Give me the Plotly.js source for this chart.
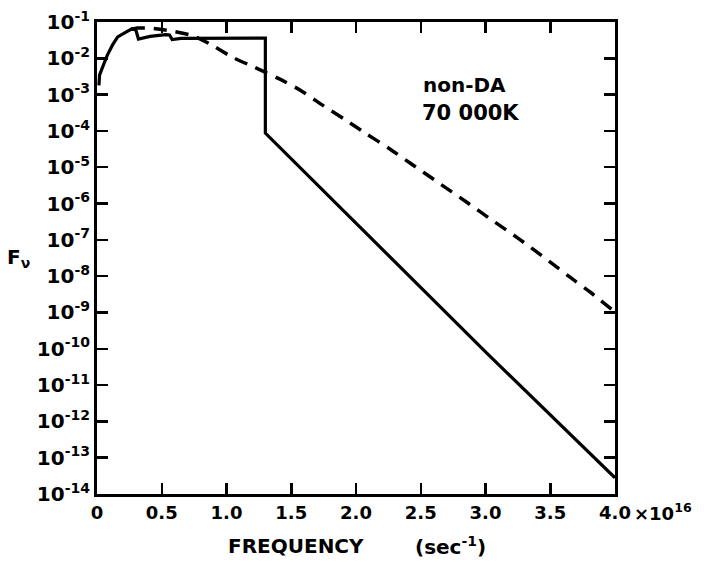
<!DOCTYPE html>
<html>
<head>
<meta charset="utf-8">
<script src="https://cdn.plot.ly/plotly-3.0.1.min.js"></script>
<style>html,body{margin:0;padding:0;background:#fff;}#chart{width:708px;height:562px;}</style>
</head>
<body>
<div id="chart"></div>
<script>
// frequency in units of 1e16 sec^-1
const modelFreq = [0.015, 0.02, 0.05, 0.08, 0.12, 0.16, 0.22, 0.27, 0.30, 0.32, 0.41, 0.53, 0.56, 0.58, 0.65, 1.30, 1.30, 2.76, 3.01, 4.0];
const modelFlux = [1.8e-3, 3.5e-3, 6.6e-3, 1.23e-2, 2.34e-2, 3.9e-2, 5.2e-2, 6.5e-2, 6.0e-2, 3.4e-2, 4.0e-2, 4.5e-2, 4.4e-2, 3.3e-2, 3.55e-2, 3.6e-2, 8.7e-5, 6.2e-10, 7.6e-11, 2.8e-14];

const bbFreq = [0.27, 0.31, 0.40, 0.58, 0.73, 0.87, 1.05, 1.22, 1.40, 1.57, 1.75, 1.91, 2.08, 2.25, 2.42, 2.63, 2.85, 3.05, 3.25, 3.49, 3.65, 3.81, 3.98];
const bbFlux = [6.3e-2, 6.8e-2, 6.8e-2, 5.6e-2, 4.3e-2, 2.5e-2, 1.05e-2, 5.6e-3, 2.8e-3, 1.32e-3, 4.9e-4, 2.1e-4, 8.3e-5, 3.4e-5, 1.29e-5, 3.9e-6, 1.12e-6, 3.5e-7, 1.12e-7, 2.6e-8, 9.5e-9, 3.6e-9, 1.17e-9];

const xTickVals = [0, 0.5, 1.0, 1.5, 2.0, 2.5, 3.0, 3.5, 4.0];
const xTickText = ['0', '0.5', '1.0', '1.5', '2.0', '2.5', '3.0', '3.5', '4.0'];
const yExponents = [-1, -2, -3, -4, -5, -6, -7, -8, -9, -10, -11, -12, -13, -14];
const yTickVals = yExponents.map(e => Math.pow(10, e));
const yTickText = yExponents.map(e => '10<sup>' + e + '</sup>');

const FONT = 'DejaVu Sans, Liberation Sans, sans-serif';

const traces = [
  {x: modelFreq, y: modelFlux, mode: 'lines', line: {color: '#000', width: 3.2}, hoverinfo: 'skip', showlegend: false},
  {x: bbFreq, y: bbFlux, mode: 'lines', line: {color: '#000', width: 3.5, dash: '13px,9px', shape: 'spline', smoothing: 0.6}, hoverinfo: 'skip', showlegend: false}
];

const axisCommon = {
  showgrid: false, zeroline: false, showline: true, linecolor: '#000', linewidth: 3,
  mirror: 'ticks', ticks: 'inside', ticklen: 11, tickwidth: 2.5, tickcolor: '#000',
  tickfont: {family: FONT, size: 18, color: '#000', weight: 'bold'}
};

const layout = {
  width: 708, height: 562,
  margin: {l: 97, r: 93, t: 22, b: 68},
  paper_bgcolor: '#fff', plot_bgcolor: '#fff',
  showlegend: false,
  xaxis: Object.assign({}, axisCommon, {range: [0, 4], tickmode: 'array', tickvals: xTickVals, ticktext: xTickText}),
  yaxis: Object.assign({}, axisCommon, {type: 'log', range: [-14, -1], tickmode: 'array', tickvals: yTickVals, ticktext: yTickText,
    tickfont: {family: FONT, size: 20, color: '#000', weight: 'bold'}}),
  annotations: [
    {text: '×10<sup>16</sup>', xref: 'x', x: 4.0, yref: 'paper', y: 0, xanchor: 'left', yanchor: 'top', xshift: 17, yshift: -4, showarrow: false,
     font: {family: FONT, size: 18, color: '#000', weight: 'bold'}},
    {text: 'FREQUENCY', xref: 'paper', x: 0.384, yref: 'paper', y: -0.110, xanchor: 'center', yanchor: 'middle', showarrow: false,
     font: {family: FONT, size: 20, color: '#000', weight: 'bold'}},
    {text: '(sec<sup>-1</sup>)', xref: 'paper', x: 0.683, yref: 'paper', y: -0.110, xanchor: 'center', yanchor: 'middle', showarrow: false,
     font: {family: FONT, size: 20, color: '#000', weight: 'bold'}},
    {text: 'F<sub>ν</sub>', xref: 'paper', x: -0.152, yref: 'paper', y: 0.50, xanchor: 'center', yanchor: 'middle', showarrow: false,
     font: {family: FONT, size: 20, color: '#000', weight: 'bold'}},
    {text: 'non-DA', xref: 'paper', x: 0.710, yref: 'paper', y: 0.867, xanchor: 'center', yanchor: 'middle', showarrow: false,
     font: {family: FONT, size: 20, color: '#000', weight: 'bold'}},
    {text: '70 000K', xref: 'paper', x: 0.722, yref: 'paper', y: 0.807, xanchor: 'center', yanchor: 'middle', showarrow: false,
     font: {family: FONT, size: 21, color: '#000', weight: 'bold'}}
  ]
};

Plotly.newPlot('chart', traces, layout, {staticPlot: true, displayModeBar: false});
</script>
</body>
</html>
